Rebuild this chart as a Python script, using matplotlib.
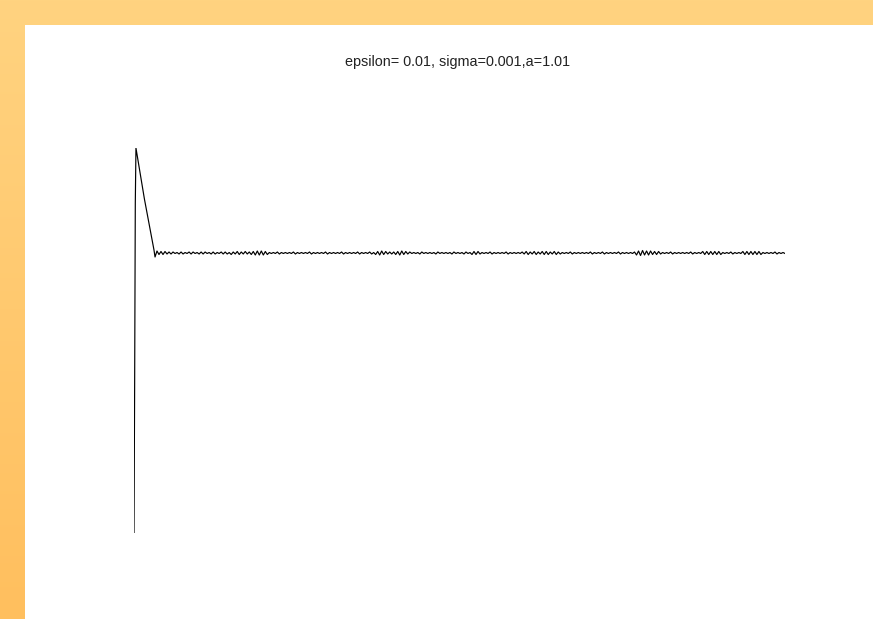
import numpy as np
import matplotlib
matplotlib.use("Agg")
import matplotlib.pyplot as plt
from matplotlib.patches import Rectangle

# ---- data -------------------------------------------------------------
title_text = "epsilon= 0.01, sigma=0.001,a=1.01"

# initial transient: fast rise, then slow relaxation to the rest state
t_transient = [0.0, 0.1, 0.2, 0.3, 1.6, 3.07, 3.23]
x_transient = [0.0, 150.0, 330.0, 385.0, 334.0, 283.0, 276.0]

# noisy rest state after the transient
rest_level = 280.0
t_rest_start = 3.53
t_end = 100.0
ripple = [
    2, -1.5, 1.5, -1.5, 1.5, -1, 1,
    -1, 1, -0.5, 0.5, -1, 1, -1, 0.5, -0.5, 1,
    -1, 1, -0.5, 0.5, -1, 1, -1, 1, -0.5, 0.5,
    -1, 1, -1, 0.5, -0.5, 1, -1, 1, -1, 0.5,
    -1.5, 1, -1, 1.5, -1.5, 1, -1, 1.5, -1, 1, -1.5, 1.5,
    -2, 2, -2, 2, -2, 1.5, -1.5,
    0.5, -0.5, 0.5, -0.5, 1, -1, 0.5, -0.5, 0.5, -0.5,
    0.5, -0.5, 1, -1, 0.5, -0.5, 0.5, -0.5, 0.5, -0.5,
    1, -1, 0.5, -0.5, 0.5, -0.5, 0.5, -0.5, 1, -1,
    0.5, -0.5, 0.5, -0.5, 0.5, -0.5, 1, -1, 0.5, -0.5,
    0.5, -0.5, 0.5, -0.5, 1, -1, 0.5, -0.5, 0.5, -0.5,
    1, -1, 0.5,
    -1.5, 1.5, -2, 2, -1.5, 1.5, -1, 1, -1, 1, -1.5, 1.5, -2, 2, -1.5, 1.5, -1, 1,
    -0.5, 0.5, -0.5, 0.5, -1, 1, -0.5, 0.5, -0.5, 0.5,
    -0.5, 0.5, -1, 1, -0.5, 0.5, -0.5, 0.5, -0.5, 0.5,
    -1, 1, -0.5, 0.5, -0.5, 0.5, -1, 1, -0.5, 0.5,
    -1.5, 1.5, -1.5, 1.5, -1,
    0.5, -0.5, 0.5, -0.5, 1, -1, 0.5, -0.5, 0.5, -0.5,
    0.5, -0.5, 1, -1, 0.5, -0.5, 0.5, -0.5, 0.5, -0.5,
    1, -1, 1.5, -1.5, 1, -1, 1.5, -1.5, 1, -1,
    1.5, -1.5, 1.5, -1.5, 1, -1, 1.5, -1.5, 1, -1,
    0.5, -0.5, 0.5, -0.5, 1, -1, 0.5, -0.5, 0.5, -0.5,
    0.5, -0.5, 0.5, -0.5, 1, -1, 0.5, -0.5, 0.5, -0.5,
    1, -1, 0.5, -0.5, 0.5, -0.5, 0.5, -0.5, 1, -1,
    0.5, -0.5, 0.5, -0.5, 0.5, -0.5, 1,
    -2, 2, -2.5, 2.5, -2, 2, -2, 2, -1.5, 1.5, -1.5, 1.5, -1,
    0.5, -0.5, 0.5, -0.5, 1, -1, 0.5, -0.5, 0.5, -0.5,
    0.5, -0.5, 0.5, -0.5, 1, -1, 0.5, -0.5, 0.5, -0.5,
    1.5, -1.5, 1.5, -1.5, 1.5, -1.5, 1.5, -1.5, 1.5, -1.5,
    0.5, -0.5, 0.5, -0.5, 1, -1, 0.5, -0.5, 0.5, -0.5,
    1.5, -1.5, 1.5, -1.5, 1.5, -1.5, 1.5, -1.5, 1.5, -1.5,
    0.5, -0.5, 0.5, -0.5, 0.5, -0.5, 1, -1, 0.5, -0.5, 0.5, -0.5,
]

# ---- figure -----------------------------------------------------------
W, H = 873, 619
fig = plt.figure(figsize=(W / 100, H / 100), dpi=100)

# orange frame with a soft vertical gradient
bg = fig.add_axes([0, 0, 1, 1], zorder=0)
grad = np.linspace(0, 1, 256).reshape(-1, 1)
top = np.array([255, 211, 128]) / 255
bottom = np.array([255, 191, 94]) / 255
img = top + (bottom - top) * grad[..., None]
bg.imshow(img, aspect="auto", extent=[0, 1, 0, 1], origin="upper")
bg.add_patch(Rectangle((25 / W, 0), 1 - 25 / W, 1 - 25 / H,
                       transform=bg.transAxes, color="white", lw=0))
bg.set_xlim(0, 1)
bg.set_ylim(0, 1)
bg.axis("off")

# plotting area
left, right, top_px, bot_px = 134, 785, 148, 533
ax = fig.add_axes([left / W, 1 - bot_px / H, (right - left) / W,
                   (bot_px - top_px) / H], zorder=1)
ax.patch.set_alpha(0)

t_rest = np.linspace(t_rest_start, t_end, len(ripple))
x_rest = rest_level + np.array(ripple)
t_all = np.concatenate([t_transient, t_rest])
x_all = np.concatenate([x_transient, x_rest])

ax.plot(t_all, x_all, color="black", lw=0.85)
ax.set_xlim(0, t_end)
ax.set_ylim(0, 385)
ax.axis("off")

fig.text(458 / W, 1 - 62 / H, title_text, ha="center", va="center",
         fontsize=10.4, family="Liberation Sans", color="#222222")

fig.savefig("out.png", dpi=100)
